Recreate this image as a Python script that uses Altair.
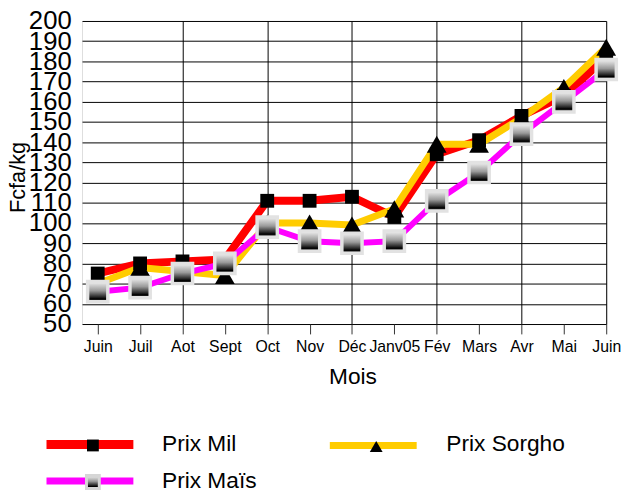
import altair as alt
import pandas as pd

months = ["Juin", "Juil", "Aot", "Sept", "Oct", "Nov", "Déc", "Janv05", "Fév", "Mars", "Avr", "Mai", "Juin"]
mil = [75, 80, 81, 82, 111, 111, 113, 103, 134, 141, 153, 163, 182]
sorgho = [70, 78, 76, 74, 100, 100, 99, 107, 139, 139, 152, 167, 187]
mais = [66, 68, 75, 80, 98, 91, 90, 91, 111, 125, 144, 160, 176]
y_ticks = list(range(50, 201, 10))

FONT = "Liberation Sans"

def frame(vals, name):
    return pd.DataFrame({"i": list(range(len(vals))), "v": vals, "serie": name})

df_mil = frame(mil, "Prix Mil")
df_sor = frame(sorgho, "Prix Sorgho")
df_mai = frame(mais, "Prix Maïs")

label_expr = "[" + ",".join("'" + m + "'" for m in months) + "][datum.value]"

x_enc = alt.X(
    "i:Q",
    scale=alt.Scale(domain=[-0.37, len(months) - 1], nice=False, zero=False),
    axis=alt.Axis(
        values=list(range(len(months))),
        labelExpr=label_expr,
        labelOverlap=False,
        labelBound=False,
        labelFlush=False,
        title="Mois",
        titleFontSize=23,
        titleFontWeight="normal",
        titleFont=FONT,
        titleX=274,
        titleY=60,
        titleBaseline="alphabetic",
        titleAlign="center",
        labelFont=FONT,
        labelFontSize=16,
        labelColor="#000",
        labelPadding=5,
        tickSize=10,
        tickColor="#333",
        tickWidth=1,
        domain=False,
        grid=True,
        gridColor="#000",
        gridWidth=1,
        gridOpacity={"condition": {"test": "datum.value % 2 == 0 && datum.value > 0", "value": 1}, "value": 0},
    ),
)
y_enc = alt.Y(
    "v:Q",
    scale=alt.Scale(domain=[50, 200], nice=False, zero=False),
    axis=alt.Axis(
        values=y_ticks,
        labelOverlap=False,
        labelBound=False,
        labelFlush=False,
        title="Fcfa/kg",
        titleFont=FONT,
        titleFontSize=22,
        titleFontWeight="normal",
        titleAngle=-90,
        titleX=-58,
        titleY=158,
        titleAlign="center",
        titleBaseline="alphabetic",
        labelFont=FONT,
        labelFontSize=26,
        labelColor="#000",
        labelPadding=11,
        ticks=False,
        domain=False,
        grid=True,
        gridColor="#000",
        gridWidth=1,
    ),
)

def enc(ch):
    return ch.encode(x=x_enc, y=y_enc)

line_mil = enc(alt.Chart(df_mil).mark_line(color="#FF0000", strokeWidth=8))
line_sor = enc(alt.Chart(df_sor).mark_line(color="#FFCC00", strokeWidth=7))
line_mai = enc(alt.Chart(df_mai).mark_line(color="#FF00FF", strokeWidth=6))

grad = alt.LinearGradient(
    gradient="linear",
    x1=0, x2=0, y1=0, y2=1,
    stops=[
        alt.GradientStop(color="#f2f2f2", offset=0),
        alt.GradientStop(color="#9a9a9a", offset=0.45),
        alt.GradientStop(color="#2a2a2a", offset=0.75),
        alt.GradientStop(color="#000000", offset=0.85),
        alt.GradientStop(color="#555555", offset=1),
    ],
)

pt_mil = enc(alt.Chart(df_mil).mark_point(shape="square", filled=True, color="#000", size=196, opacity=1))
pt_sor = enc(alt.Chart(df_sor).mark_point(shape="triangle-up", filled=True, color="#000", size=400, opacity=1))
pt_mai = enc(alt.Chart(df_mai).mark_point(
    shape="square", filled=True, fill=grad, stroke="#e2e2e2", strokeWidth=3.5, size=420, opacity=1
))

# custom legend
def legend_entry(name, color, width, lx1, lx2, ly, shape, msize, tx, ty, mfill, mstroke=None, msw=0):
    d = pd.DataFrame({"label": [name]})
    base = alt.Chart(d)
    rule = base.mark_rule(color=color, strokeWidth=width).encode(
        x=alt.value(lx1), x2=alt.value(lx2), y=alt.value(ly)
    )
    kw = dict(shape=shape, filled=True, fill=mfill, size=msize, opacity=1)
    if mstroke:
        kw["stroke"] = mstroke
        kw["strokeWidth"] = msw
    mk = base.mark_point(**kw).encode(x=alt.value((lx1 + lx2) / 2 + 3), y=alt.value(ly + 1))
    txt = base.mark_text(font=FONT, fontSize=23, align="left", baseline="alphabetic", color="#000").encode(
        text="label:N", x=alt.value(tx), y=alt.value(ty)
    )
    return [rule, mk, txt]

leg = []
leg += legend_entry("Prix Mil", "#FF0000", 9, -36, 52, 429, "square", 144, 81, 436, "#000")
leg += legend_entry("Prix Sorgho", "#FFCC00", 7, 251, 339, 430, "triangle-up", 169, 369, 436, "#000")
leg += legend_entry("Prix Maïs", "#FF00FF", 7, -36, 52, 466, "square", 169, 81, 473, grad, "#d6d6d6", 3)

chart = alt.layer(line_mil, line_sor, line_mai, pt_mil, pt_sor, pt_mai, *leg).properties(
    width=531,
    height=307,
    autosize=alt.AutoSizeParams(type="none"),
    padding={"left": 75, "top": 10, "right": 17, "bottom": 167},
).configure_view(strokeWidth=0).configure(background="white")

chart.save("out.html", embed_options={"renderer": "svg", "actions": False})
